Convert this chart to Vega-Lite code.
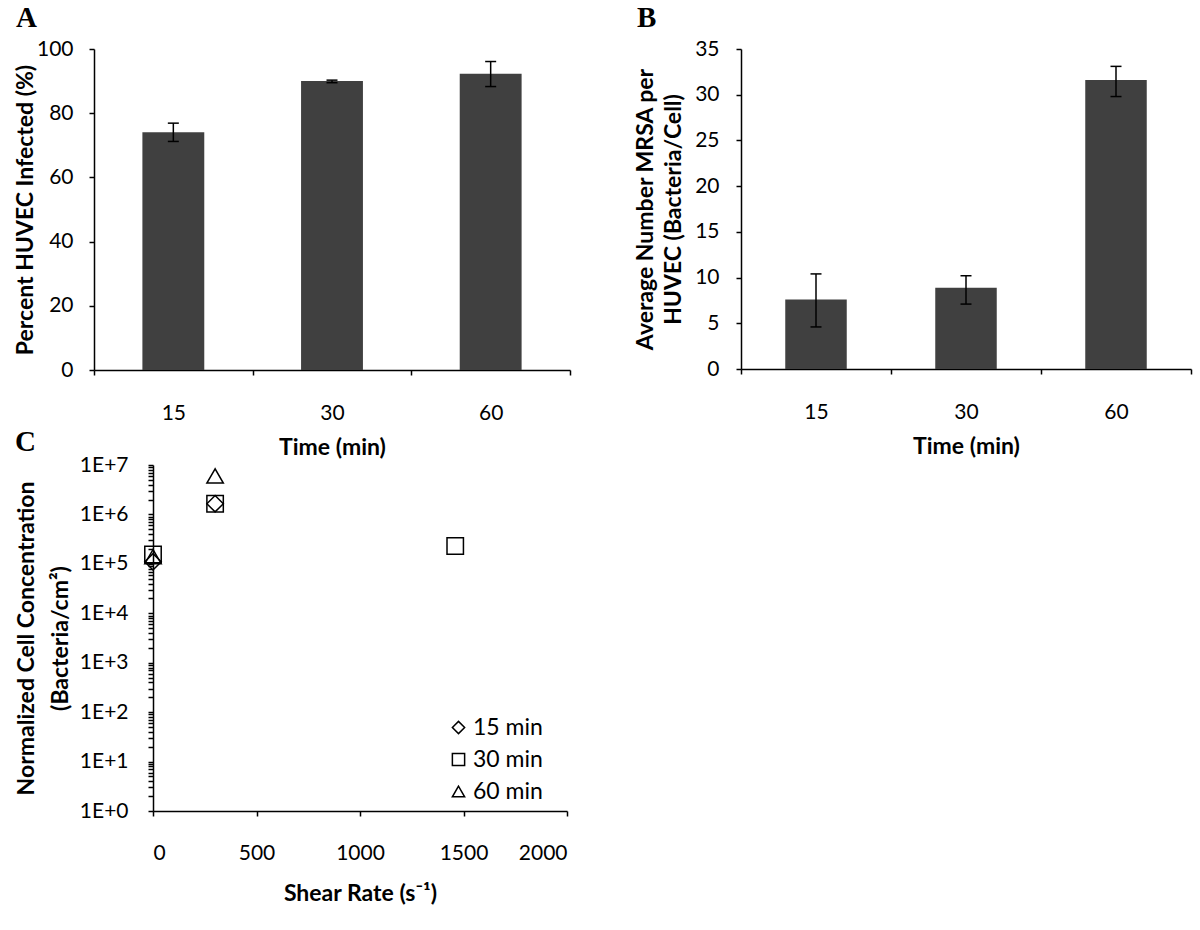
{
  "$schema": "https://vega.github.io/schema/vega-lite/v6.json",
  "background": "white",
  "padding": {"left": 14, "top": 4, "right": 5, "bottom": 5},
  "datasets": {
    "infected": [
      {"time": "15", "value": 74.1, "lo": 71.2, "hi": 76.9},
      {"time": "30", "value": 90.0, "lo": 89.5, "hi": 90.3},
      {"time": "60", "value": 92.3, "lo": 88.3, "hi": 96.1}
    ],
    "mrsa": [
      {"time": "15", "value": 7.6, "lo": 4.6, "hi": 10.4},
      {"time": "30", "value": 8.9, "lo": 7.1, "hi": 10.2},
      {"time": "60", "value": 31.6, "lo": 29.8, "hi": 33.1}
    ],
    "shear": [
      {"series": "15 min", "shear": 0, "conc": 110000},
      {"series": "15 min", "shear": 300, "conc": 1650000},
      {"series": "30 min", "shear": 0, "conc": 155000},
      {"series": "30 min", "shear": 300, "conc": 1650000},
      {"series": "30 min", "shear": 1460, "conc": 230000},
      {"series": "60 min", "shear": 0, "conc": 140000},
      {"series": "60 min", "shear": 300, "conc": 6000000}
    ]
  },
  "vconcat": [
    {
      "hconcat": [
        {
          "width": 476,
          "height": 321,
          "title": {"text": "A", "anchor": "start", "frame": "group", "font": "Liberation Serif", "fontSize": 29, "fontWeight": "bold", "color": "black", "dx": -78, "offset": 5},
          "data": {"name": "infected"},
          "encoding": {
            "x": {
              "field": "time", "type": "ordinal", "sort": ["15", "30", "60"],
              "scale": {"paddingInner": 0, "paddingOuter": 0},
              "axis": {"title": "Time (min)", "labelAngle": 0, "tickBand": "extent", "labelPadding": 27, "titlePadding": 13}
            }
          },
          "layer": [
            {
              "mark": {"type": "bar", "color": "#404040", "width": {"band": 0.39}},
              "encoding": {
                "y": {"field": "value", "type": "quantitative", "scale": {"domain": [0, 100], "nice": false},
                  "axis": {"title": "Percent HUVEC Infected (%)", "values": [0, 20, 40, 60, 80, 100], "titlePadding": -1, "labelPadding": 16}}
              }
            },
            {
              "mark": {"type": "rule", "color": "black", "strokeWidth": 1.5},
              "encoding": {"y": {"field": "lo", "type": "quantitative"}, "y2": {"field": "hi"}}
            },
            {
              "mark": {"type": "tick", "color": "black", "thickness": 1.5, "size": 11, "opacity": 1},
              "encoding": {"y": {"field": "lo", "type": "quantitative"}}
            },
            {
              "mark": {"type": "tick", "color": "black", "thickness": 1.5, "size": 11, "opacity": 1},
              "encoding": {"y": {"field": "hi", "type": "quantitative"}}
            }
          ]
        },
        {
          "width": 450,
          "height": 320,
          "title": {"text": "B", "anchor": "start", "frame": "group", "font": "Liberation Serif", "fontSize": 29, "fontWeight": "bold", "color": "black", "dx": -104, "offset": 5},
          "data": {"name": "mrsa"},
          "encoding": {
            "x": {
              "field": "time", "type": "ordinal", "sort": ["15", "30", "60"],
              "scale": {"paddingInner": 0, "paddingOuter": 0},
              "axis": {"title": "Time (min)", "labelAngle": 0, "tickBand": "extent", "labelPadding": 27, "titlePadding": 13}
            }
          },
          "layer": [
            {
              "mark": {"type": "bar", "color": "#404040", "width": {"band": 0.41}},
              "encoding": {
                "y": {"field": "value", "type": "quantitative", "scale": {"domain": [0, 35], "nice": false},
                  "axis": {"title": ["Average Number MRSA per", "HUVEC (Bacteria/Cell)"], "values": [0, 5, 10, 15, 20, 25, 30, 35], "titlePadding": 9, "labelPadding": 17, "titleLineHeight": 28}}
              }
            },
            {
              "mark": {"type": "rule", "color": "black", "strokeWidth": 1.5},
              "encoding": {"y": {"field": "lo", "type": "quantitative"}, "y2": {"field": "hi"}}
            },
            {
              "mark": {"type": "tick", "color": "black", "thickness": 1.5, "size": 11, "opacity": 1},
              "encoding": {"y": {"field": "lo", "type": "quantitative"}}
            },
            {
              "mark": {"type": "tick", "color": "black", "thickness": 1.5, "size": 11, "opacity": 1},
              "encoding": {"y": {"field": "hi", "type": "quantitative"}}
            }
          ]
        }
      ],
      "spacing": 171,
      "bounds": "flush"
    },
    {
      "hconcat": [
        {
          "width": 1,
          "height": 346,
          "data": {"values": []},
          "mark": {"type": "point", "opacity": 0}
        },
        {
          "width": 414,
          "height": 346,
          "title": {"text": "C", "anchor": "start", "frame": "group", "font": "Liberation Serif", "fontSize": 29, "fontWeight": "bold", "color": "black", "dx": -138, "offset": -3},
          "data": {"name": "shear"},
          "mark": {"type": "point", "filled": false, "color": "black", "strokeWidth": 1.5, "size": 270, "opacity": 1},
          "encoding": {
            "x": {"field": "shear", "type": "quantitative", "scale": {"domain": [0, 2000], "nice": false},
              "axis": {"title": "Shear Rate (s⁻¹)", "values": [0, 500, 1000, 1500, 2000], "format": "d", "labelPadding": 26, "titlePadding": 19}},
            "y": {"field": "conc", "type": "quantitative", "scale": {"type": "log", "domain": [1, 10000000], "nice": false},
              "axis": {"title": ["Normalized Cell Concentration", "(Bacteria/cm²)"],
                "values": [1,2,3,4,5,6,7,8,9,10,20,30,40,50,60,70,80,90,100,200,300,400,500,600,700,800,900,1000,2000,3000,4000,5000,6000,7000,8000,9000,10000,20000,30000,40000,50000,60000,70000,80000,90000,100000,200000,300000,400000,500000,600000,700000,800000,900000,1000000,2000000,3000000,4000000,5000000,6000000,7000000,8000000,9000000,10000000],
                "labelExpr": "abs(log(datum.value) / LN10 - round(log(datum.value) / LN10)) < 0.000001 ? '1E+' + round(log(datum.value) / LN10) : ''",
                "labelOverlap": false, "tickSize": 5, "titlePadding": 7, "titleLineHeight": 34, "labelPadding": 20}},
            "shape": {"field": "series", "type": "nominal",
              "scale": {"domain": ["15 min", "30 min", "60 min"], "range": ["diamond", "square", "triangle-up"]},
              "legend": {"title": null, "orient": "none", "legendX": 294, "legendY": 251, "symbolSize": 150, "symbolStrokeWidth": 1.5, "symbolStrokeColor": "black", "symbolFillColor": "transparent", "labelFont": "Lato", "labelFontSize": 23, "labelColor": "black", "labelOffset": 3, "rowPadding": 8}}
          }
        }
      ],
      "spacing": 58,
      "bounds": "flush",
      "resolve": {"scale": {"shape": "independent"}, "legend": {"shape": "independent"}}
    }
  ],
  "spacing": -31,
  "bounds": "full",
  "resolve": {"scale": {"shape": "independent"}, "legend": {"shape": "independent"}},
  "config": {
    "view": {"stroke": null},
    "font": "Lato",
    "axis": {
      "labelFont": "Lato", "titleFont": "Lato", "labelFontSize": 21, "titleFontSize": 23, "titleFontWeight": "bold",
      "labelColor": "black", "titleColor": "black", "domainColor": "black", "tickColor": "black",
      "domainWidth": 1.5, "tickWidth": 1.5, "tickSize": 5, "grid": false, "labelPadding": 14, "labelFontWeight": "normal"
    }
  }
}
